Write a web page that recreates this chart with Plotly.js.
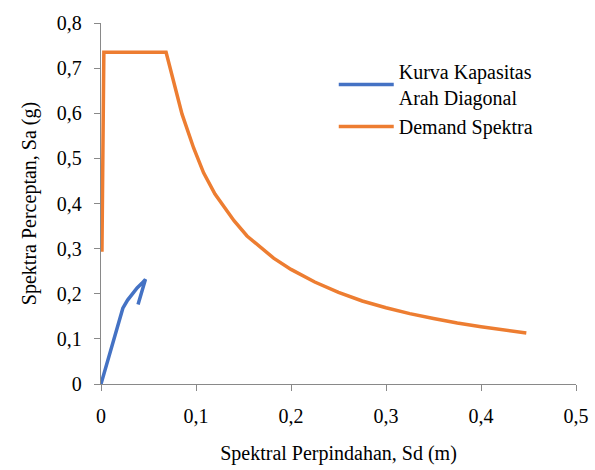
<!DOCTYPE html>
<html>
<head>
<meta charset="utf-8">
<script src="https://cdn.plot.ly/plotly-3.0.1.min.js"></script>
<style>
html,body{margin:0;padding:0;background:#fff;}
#chart{width:595px;height:470px;}
#chart svg text{font-family:'Liberation Serif' !important; fill:#000 !important;}
#fontprime{position:absolute;left:-9999px;top:0;font:20px 'Liberation Serif';}
</style>
</head>
<body>
<div id="fontprime">Spektral</div>
<div id="chart"></div>
<script>
// Capacity curve (Kurva Kapasitas Arah Diagonal)
const capSd = [0, 0.012, 0.023, 0.028, 0.033, 0.038, 0.043, 0.0468, 0.039];
const capSa = [0, 0.09, 0.168, 0.186, 0.200, 0.213, 0.223, 0.232, 0.176];
// Demand spectrum (Demand Spektra)
const demSd = [0.001, 0.003, 0.0685, 0.0725, 0.0764, 0.0853, 0.0975, 0.108, 0.12, 0.129, 0.14, 0.1537, 0.17, 0.1817,
               0.2, 0.225, 0.25, 0.275, 0.3, 0.325, 0.35, 0.375, 0.4, 0.425, 0.4477];
const demSa = [0.293, 0.735, 0.735, 0.703, 0.672, 0.598, 0.523, 0.468, 0.421, 0.393, 0.362, 0.328, 0.298, 0.279,
               0.254, 0.226, 0.203, 0.184, 0.169, 0.156, 0.145, 0.135, 0.127, 0.119, 0.113];
// Tick labels
const xTickVals = [0, 0.1, 0.2, 0.3, 0.4, 0.5];
const xTickText = ["0", "0,1", "0,2", "0,3", "0,4", "0,5"];
const yTickVals = [0, 0.1, 0.2, 0.3, 0.4, 0.5, 0.6, 0.7, 0.8];
const yTickText = ["0", "0,1", "0,2", "0,3", "0,4", "0,5", "0,6", "0,7", "0,8"];

function f() { return {family: "Liberation Serif", size: 20}; }

const traces = [
  {x: capSd, y: capSa, mode: "lines", name: "Kurva Kapasitas<br>Arah Diagonal",
   line: {color: "#4472C4", width: 3.5}},
  {x: demSd, y: demSa, mode: "lines", name: "Demand Spektra",
   line: {color: "#ED7D31", width: 3.5}}
];

const layout = {
  width: 595, height: 470,
  margin: {l: 101, r: 19, t: 23, b: 86},
  paper_bgcolor: "#fff", plot_bgcolor: "#fff",
  showlegend: true,
  legend: {x: 0.49, y: 0.92, xanchor: "left", yanchor: "top", font: f(),
           bgcolor: "rgba(0,0,0,0)", itemwidth: 55, tracegroupgap: 18},
  xaxis: {range: [0, 0.5], tickvals: xTickVals, ticktext: xTickText,
          showgrid: false, zeroline: false, showline: true, linecolor: "#898989", linewidth: 1.3,
          ticks: "outside", ticklen: 6, tickcolor: "#898989", tickfont: f(), ticklabelstandoff: 8,
          title: {text: "Spektral Perpindahan, Sd (m)", font: f(), standoff: 19}},
  yaxis: {range: [0, 0.8], tickvals: yTickVals, ticktext: yTickText,
          showgrid: false, zeroline: false, showline: true, linecolor: "#898989", linewidth: 1.3,
          ticks: "outside", ticklen: 6, tickcolor: "#898989", tickfont: f(), ticklabelstandoff: 8,
          title: {text: "Spektra Perceptan, Sa (g)", font: f(), standoff: 14}}
};

function draw() {
  Plotly.newPlot("chart", traces, layout, {displayModeBar: false, staticPlot: true});
}
if (document.fonts && document.fonts.load) {
  document.fonts.load("20px 'Liberation Serif'").then(draw, draw);
} else {
  draw();
}
</script>
</body>
</html>
